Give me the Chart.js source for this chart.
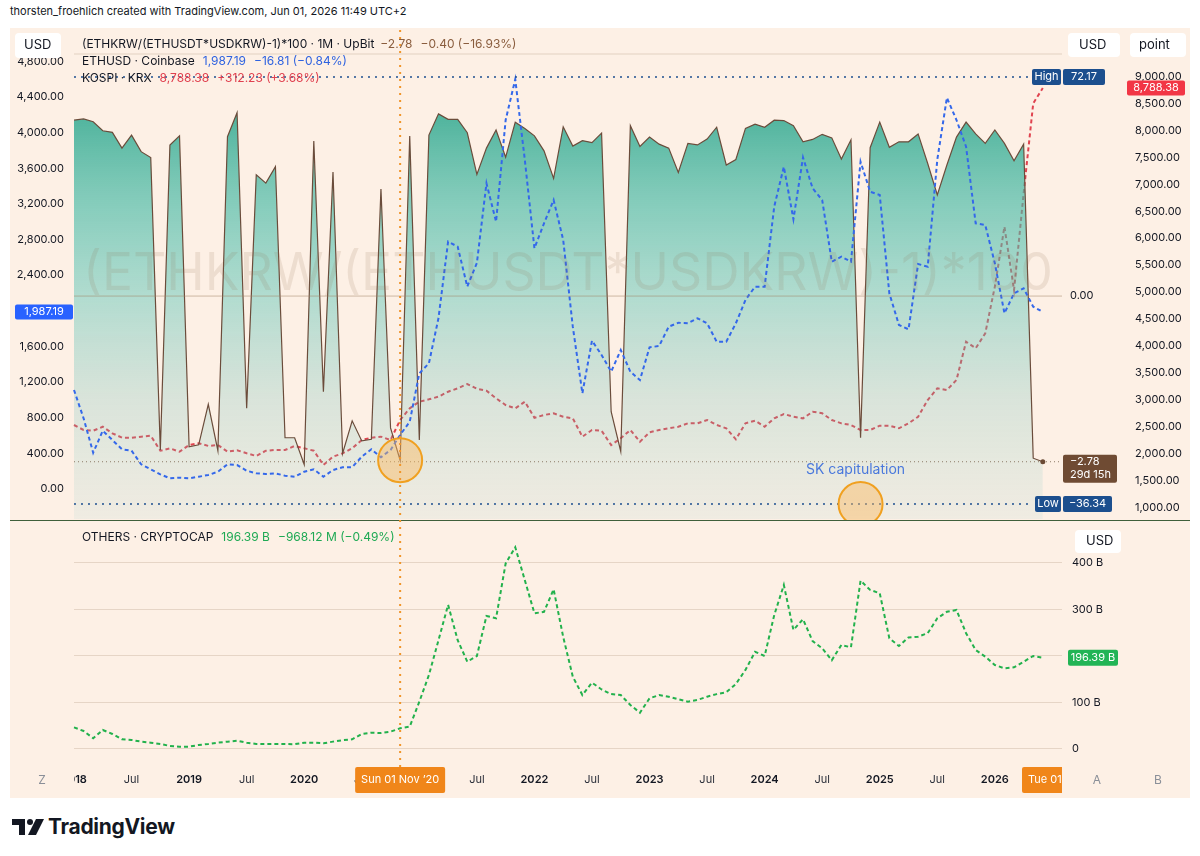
<!DOCTYPE html>
<html>
<head>
<meta charset="utf-8">
<script src="https://cdn.jsdelivr.net/npm/chart.js@4.4.1/dist/chart.umd.min.js"></script>
<style>
  body { margin: 0; background: #fff; width: 1200px; height: 856px; position: relative; overflow: hidden; font-family: Inter, "Noto Sans", sans-serif; }
  #hdr { position: absolute; left: 10px; top: 4px; font-size: 11px; color: #131722; }
  #panel { position: absolute; left: 10px; top: 28px; width: 1180px; height: 770px; background: #fdf0e5; }
  #sep { position: absolute; left: 10px; top: 520px; width: 1180px; height: 1px; background: #3f5f3a; }
  #c1 { position: absolute; left: 0; top: 0; }
  #c2 { position: absolute; left: 0; top: 520px; }
  #logo { position: absolute; left: 12px; top: 814px; display: flex; align-items: center; gap: 4px; font-weight: 700; font-size: 21px; color: #131722; letter-spacing: -0.3px; }
</style>
</head>
<body>
<div id="hdr">thorsten_froehlich created with TradingView.com, Jun 01, 2026 11:49 UTC+2</div>
<div id="panel"></div>
<canvas id="c1" width="1200" height="520"></canvas>
<div id="sep"></div>
<canvas id="c2" width="1200" height="280"></canvas>
<div id="logo">
  <svg width="32" height="20" viewBox="0 0 32 20"><path d="M0 2h13v16H7V8H0z" fill="#131722"/><circle cx="18" cy="5" r="3" fill="#131722"/><path d="M24 2h8l-8 16h-8z" fill="#131722"/></svg>
  <span>TradingView</span>
</div>
<script>
// monthly bars, Jan 2018 .. Jun 2026 (axis runs two months further)
const months = [];
for (let i = 0; i < 104; i++) {
    const y = 2018 + Math.floor(i / 12), m = i % 12 + 1;
    months.push(y + '-' + String(m).padStart(2, '0'));
}

// (ETHKRW/(ETHUSDT*USDKRW)-1)*100 , UpBit
const spread = [
    61.2, 61.5, 60.8, 58.5, 58.1, 54.1, 57.4, 53.2, 51.7, -22.6, 54.9, 57.2,
    -21.8, -21.3, -11.0, -22.8, 57.0, 63.1, -12.0, 47.3, 45.2, 49.4, -19.5, -19.5,
    -26.3, 55.9, -7.8, 48.0, -23.5, -15.2, -20.3, -19.9, 43.7, -17.0, -25.2, 57.2,
    -20.1, 57.4, 62.8, 61.4, 61.4, 58.0, 47.4, 54.1, 58.7, 51.8, 60.7, 59.1,
    57.2, 53.4, 46.4, 59.5, 54.6, 56.0, 55.5, 57.9, -12.9, -23.0, 59.8, 54.5,
    56.9, 55.1, 54.1, 47.9, 55.3, 54.9, 56.4, 59.4, 49.8, 51.2, 59.1, 60.2,
    59.4, 61.2, 61.1, 59.8, 55.7, 56.3, 57.6, 56.7, 51.3, 56.2, -19.5, 54.2,
    60.7, 54.3, 55.7, 55.7, 57.7, 50.2, 42.2, 49.8, 56.9, 60.7, 57.7, 55.3,
    58.7, 55.3, 50.9, 55.1, -24.7, -25.6
];

// ETHUSD, Coinbase
const ethusd = [
    1111, 793, 407, 654, 550, 446, 430, 277, 221, 165, 120, 127,
    120, 138, 157, 194, 277, 269, 205, 176, 168, 176, 149, 138,
    194, 221, 138, 213, 244, 244, 363, 446, 356, 438, 607, 755,
    1298, 1411, 1919, 2776, 2720, 2271, 2536, 3431, 3000, 4141, 4598, 3692,
    2701, 2982, 3243, 2795, 1822, 1074, 1665, 1504, 1317, 1560, 1317, 1223,
    1590, 1605, 1822, 1866, 1860, 1916, 1860, 1653, 1653, 1860, 2121, 2271,
    2271, 3169, 3617, 3027, 3721, 3375, 3243, 2551, 2607, 2551, 3673, 3337,
    3300, 2196, 1841, 1792, 2525, 2495, 3697, 4392, 4141, 3842, 2982, 2963,
    2533, 1972, 2196, 2252, 2046, 1987.19
];

// KOSPI, KRX
const kospi = [
    2529, 2436, 2423, 2497, 2375, 2293, 2293, 2312, 2330, 2051, 2096, 2033,
    2157, 2189, 2140, 2157, 2033, 2060, 2003, 1953, 2051, 2065, 2065, 2139,
    2096, 2051, 1786, 1940, 2003, 2096, 2250, 2293, 2312, 2250, 2622, 2839,
    2962, 3006, 3055, 3148, 3210, 3290, 3202, 3166, 3025, 2900, 2839, 2962,
    2664, 2715, 2746, 2683, 2653, 2312, 2436, 2423, 2157, 2282, 2436, 2219,
    2393, 2436, 2468, 2497, 2560, 2560, 2622, 2529, 2468, 2263, 2560, 2609,
    2497, 2653, 2733, 2683, 2653, 2776, 2746, 2622, 2560, 2529, 2436, 2436,
    2516, 2516, 2468, 2560, 2683, 2993, 3210, 3179, 3365, 4077, 3954, 4232,
    5100, 6213, 5037, 6833, 8505, 8788.38
];

// OTHERS, CRYPTOCAP (billion USD)
const others = [
    46.6, 38.7, 23, 40.9, 32.3, 20.8, 19.4, 15.8, 13.6, 10.8, 6.5, 5,
    5, 8.6, 10.8, 13.6, 15.8, 17.8, 13.6, 10.8, 10.8, 10.8, 10.8, 10.3,
    13.6, 13.6, 12.2, 15.8, 18.9, 20.8, 32.3, 35, 34.4, 37.2, 44.5, 48,
    101.7, 159, 234, 310, 234, 187.7, 200, 286, 281, 399, 433.8, 363,
    291.8, 295, 343.4, 241, 155.5, 116, 142.6, 128, 118, 116, 94.6, 78,
    109, 116, 112.5, 106.8, 101.7, 105.4, 112.5, 118, 122, 139.8, 170, 209,
    200, 288, 352.7, 256, 279, 232, 216.5, 191, 223.7, 218.7, 362, 342,
    335, 238, 221.5, 240, 241.5, 249, 281, 295, 299, 249, 213, 198.5,
    180.6, 173.5, 175.7, 187.7, 200, 196.39
];

// axis ticks
const ethTicks = [0, 400, 800, 1200, 1600, 2000, 2400, 2800, 3200, 3600, 4000, 4400, 4800];
const kospiTicks = [1000, 1500, 2000, 2500, 3000, 3500, 4000, 4500, 5000, 5500, 6000, 6500, 7000, 7500, 8000, 8500, 9000];
const othersTicks = [0, 100, 200, 300, 400];

const spreadHigh = 72.17, spreadLow = -36.34, spreadRef = 16.5;
const crossIdx = 34;      // Nov 2020
const skIdx = 82;         // Nov 2024
const watermark = '(ETHKRW/(ETHUSDT*USDKRW)-1)*100';
const F = 'Inter, "Noto Sans", sans-serif';

function fmt(v) {
    return v.toLocaleString('en-US', { minimumFractionDigits: 2, maximumFractionDigits: 2 });
}

function rbox(ctx, x, y, w, h, r, fill) {
    ctx.beginPath();
    ctx.roundRect(x, y, w, h, r);
    ctx.fillStyle = fill;
    ctx.fill();
}

function txt(ctx, s, x, y, color, font, align) {
    ctx.font = font;
    ctx.fillStyle = color;
    ctx.textAlign = align || 'left';
    ctx.textBaseline = 'middle';
    ctx.fillText(s, x, y);
}

function hline(ctx, x1, x2, y, color, width, dash, cap) {
    ctx.save();
    ctx.beginPath();
    ctx.strokeStyle = color;
    ctx.lineWidth = width;
    ctx.setLineDash(dash);
    ctx.lineCap = cap || 'butt';
    ctx.moveTo(x1, y);
    ctx.lineTo(x2, y);
    ctx.stroke();
    ctx.restore();
}

function legendLine(ctx, x, y, parts) {
    ctx.font = '12px ' + F;
    parts.forEach(([s, c, gap]) => {
        txt(ctx, s, x, y, c, '12px ' + F);
        x += ctx.measureText(s).width + (gap || 7);
    });
}

function circleMark(ctx, x, y, r) {
    ctx.beginPath();
    ctx.arc(x, y, r, 0, Math.PI * 2);
    ctx.fillStyle = 'rgba(250,185,95,0.45)';
    ctx.fill();
    ctx.lineWidth = 2;
    ctx.strokeStyle = '#f0a020';
    ctx.stroke();
}

function crosshair(ctx, x, y1, y2) {
    ctx.save();
    ctx.beginPath();
    ctx.strokeStyle = '#f0952a';
    ctx.lineWidth = 2;
    ctx.setLineDash([2, 5]);
    ctx.moveTo(x, y1);
    ctx.lineTo(x, y2);
    ctx.stroke();
    ctx.restore();
}

// fixed axis width, no extra room for the end labels
function fixAxis(w) {
    return s => { s.width = w; s.paddingTop = 0; s.paddingBottom = 0; };
}

const topDecor = {
    id: 'topDecor',
    afterDatasetsDraw(chart) {
        const { ctx, chartArea: a, scales } = chart;
        const xs = scales.x, yS = scales.yS;
        ctx.save();

        // watermark
        ctx.font = '60px ' + F;
        const fs = 60 * (a.right - a.left - 18) / ctx.measureText(watermark).width;
        txt(ctx, watermark, (a.left + a.right) / 2, (a.top + a.bottom) / 2, 'rgba(140,105,75,0.14)', fs + 'px ' + F, 'center');

        // faint top rule and zero line
        hline(ctx, a.left, a.right, a.top + 24, '#e2d1c1', 1, []);
        const yRef = yS.getPixelForValue(spreadRef);
        hline(ctx, a.left, a.right, yRef, 'rgba(160,130,100,0.5)', 1, []);
        txt(ctx, '0.00', a.right + 8, yRef, '#131722', '11px ' + F);

        // last value line
        const last = spread.length - 1;
        const yLast = yS.getPixelForValue(spread[last]);
        hline(ctx, a.left, a.right, yLast, '#8d7a66', 1, [1, 3]);

        // high / low lines
        const yHi = yS.getPixelForValue(spreadHigh), yLo = yS.getPixelForValue(spreadLow);
        hline(ctx, a.left + 1, a.right - 31, yHi, '#1d4f8f', 2, [0, 7], 'round');
        hline(ctx, a.left + 1, a.right - 28, yLo, '#1d4f8f', 2, [0, 7], 'round');

        // circles and note
        circleMark(ctx, xs.getPixelForValue(crossIdx), yS.getPixelForValue(spread[crossIdx]), 22);
        const xSk = xs.getPixelForValue(skIdx);
        circleMark(ctx, xSk, yLo, 22);
        txt(ctx, 'SK capitulation', xSk - 5, yLo - 34, '#4a78dc', '14px ' + F, 'center');

        // last point dot
        ctx.beginPath();
        ctx.arc(xs.getPixelForValue(last), yLast, 2.5, 0, Math.PI * 2);
        ctx.fillStyle = '#6b4a35';
        ctx.fill();

        crosshair(ctx, xs.getPixelForValue(crossIdx), 30, 520);
        ctx.restore();
    },
    afterDraw(chart) {
        const { ctx, chartArea: a, scales } = chart;
        const yS = scales.yS, yE = scales.yE, yK = scales.yK;
        ctx.save();

        // legend
        legendLine(ctx, 82, 44, [[watermark + ' · 1M · UpBit', '#131722', 6], ['−2.78', '#8a5d3e', 8], ['−0.40 (−16.93%)', '#8a5d3e']]);
        legendLine(ctx, 82, 61, [['ETHUSD · Coinbase', '#131722', 8], ['1,987.19', '#2f63e0', 8], ['−16.81 (−0.84%)', '#2f63e0']]);
        legendLine(ctx, 82, 78, [['KOSPI · KRX', '#131722', 8], ['8,788.38', '#e0404f', 8], ['+312.23 (+3.68%)', '#e0404f']]);

        // scale header buttons
        rbox(ctx, 15, 33, 46, 25, 4, '#ffffff');
        txt(ctx, 'USD', 24, 45, '#131722', '13px ' + F);
        rbox(ctx, 1068, 33, 52, 24, 4, '#ffffff');
        txt(ctx, 'USD', 1079, 45, '#131722', '13px ' + F);
        rbox(ctx, 1130, 33, 56, 24, 4, '#ffffff');
        txt(ctx, 'point', 1139, 45, '#131722', '13px ' + F);

        // high / low tags
        const yHi = yS.getPixelForValue(spreadHigh), yLo = yS.getPixelForValue(spreadLow);
        rbox(ctx, a.right - 30, yHi - 8, 29, 16, 2, '#1c4f8e');
        txt(ctx, 'High', a.right - 15.5, yHi, '#fff', '11px ' + F, 'center');
        rbox(ctx, a.right + 1, yHi - 8, 42, 16, 2, '#1c4f8e');
        txt(ctx, fmt(spreadHigh), a.right + 22, yHi, '#fff', '11px ' + F, 'center');
        rbox(ctx, a.right - 27, yLo - 8, 26, 16, 2, '#1c4f8e');
        txt(ctx, 'Low', a.right - 14, yLo, '#fff', '11px ' + F, 'center');
        rbox(ctx, a.right + 1, yLo - 8, 49, 16, 2, '#1c4f8e');
        txt(ctx, '−' + fmt(-spreadLow), a.right + 25.5, yLo, '#fff', '11px ' + F, 'center');

        // last value tag
        const yLast = yS.getPixelForValue(spread[spread.length - 1]);
        rbox(ctx, a.right + 1, yLast - 7, 54, 28, 2, '#6f4b33');
        txt(ctx, '−2.78', a.right + 8, yLast, '#fff', '11px ' + F);
        txt(ctx, '29d 15h', a.right + 8, yLast + 13, '#fff', '11px ' + F);

        // ETH and KOSPI last value tags
        const eth = ethusd[ethusd.length - 1], ks = kospi[kospi.length - 1];
        const yEth = yE.getPixelForValue(eth);
        rbox(ctx, 15, yEth - 7.5, 58, 15, 2, '#2962ff');
        txt(ctx, fmt(eth), 44, yEth, '#fff', '11px ' + F, 'center');
        const yKs = yK.getPixelForValue(ks);
        rbox(ctx, 1127, yKs - 7.5, 58, 15, 2, '#f23645');
        txt(ctx, fmt(ks), 1156, yKs, '#fff', '11px ' + F, 'center');
        ctx.restore();
    }
};

const bottomDecor = {
    id: 'bottomDecor',
    afterDatasetsDraw(chart) {
        const { ctx, scales } = chart;
        crosshair(ctx, scales.x.getPixelForValue(crossIdx), 0, 248);
    },
    afterDraw(chart) {
        const { ctx, chartArea: a, scales } = chart;
        const xs = scales.x, yO = scales.yO;
        ctx.save();

        legendLine(ctx, 82, 17, [['OTHERS · CRYPTOCAP', '#131722', 8], ['196.39 B', '#1fa954', 8], ['−968.12 M (−0.49%)', '#1fa954']]);

        rbox(ctx, 1075, 10, 46, 23, 4, '#ffffff');
        txt(ctx, 'USD', 1086, 21.5, '#131722', '13px ' + F);

        const yLast = yO.getPixelForValue(others[others.length - 1]);
        rbox(ctx, 1068, yLast - 8, 50, 16, 2, '#22b455');
        txt(ctx, '196.39 B', 1093, yLast, '#fff', '11px ' + F, 'center');

        // time axis labels
        const ty = 260;
        ctx.save();
        ctx.beginPath();
        ctx.rect(a.left, a.bottom, a.right - a.left, 34);
        ctx.clip();
        months.forEach((lab, i) => {
            const m = +lab.slice(5);
            if (m !== 1 && m !== 7) return;
            const x = xs.getPixelForValue(i);
            if (m === 1) txt(ctx, lab.slice(0, 4), x, ty, '#131722', '600 11px ' + F, 'center');
            else txt(ctx, 'Jul', x, ty, '#2a2e39', '11px ' + F, 'center');
        });
        ctx.restore();

        // crosshair time tag
        const xc = xs.getPixelForValue(crossIdx);
        rbox(ctx, xc - 45, 247, 90, 26, 2, '#f0861a');
        txt(ctx, 'Sun 01 Nov \u201920', xc, ty, '#fff', '11px ' + F, 'center');

        // last bar time tag, clipped at the plot edge
        ctx.save();
        ctx.beginPath();
        ctx.rect(a.left, a.bottom, a.right - a.left, 34);
        ctx.clip();
        rbox(ctx, a.right - 40, 247, 80, 26, 2, '#f0861a');
        txt(ctx, 'Tue 01 Jun \u201926', a.right - 34, ty, '#fff', '11px ' + F);
        ctx.restore();

        txt(ctx, 'Z', 42, ty, '#8a8f98', '12px ' + F, 'center');
        txt(ctx, 'A', 1097, ty, '#8a8f98', '12px ' + F, 'center');
        txt(ctx, 'B', 1158, ty, '#8a8f98', '12px ' + F, 'center');
        ctx.restore();
    }
};

// teal area: strong near the top, thin near the base so the red line stays visible low down
function spreadFill(c) {
    const a = c.chart.chartArea;
    if (!a) return 'rgba(0,0,0,0)';
    const g = c.chart.ctx.createLinearGradient(0, a.top, 0, a.bottom);
    g.addColorStop(0, 'rgba(46,167,142,0.86)');
    g.addColorStop(0.16, 'rgba(46,167,142,0.86)');
    g.addColorStop(0.35, 'rgba(70,185,165,0.66)');
    g.addColorStop(0.55, 'rgba(87,196,182,0.45)');
    g.addColorStop(0.75, 'rgba(103,190,184,0.24)');
    g.addColorStop(0.86, 'rgba(128,200,194,0.2)');
    g.addColorStop(1, 'rgba(167,213,209,0.15)');
    return g;
}

const noGrid = { display: false, drawTicks: false };
const tickFont = { size: 11, family: F };

new Chart(document.getElementById('c1'), {
    type: 'line',
    data: {
        labels: months,
        datasets: [
            { label: 'spread', data: spread, yAxisID: 'yS', borderColor: '#6b4c3b', borderWidth: 1.2, fill: 'start', backgroundColor: spreadFill, pointRadius: 0, tension: 0, order: 2 },
            { label: 'ETHUSD', data: ethusd, yAxisID: 'yE', borderColor: '#3468ea', borderWidth: 2, borderDash: [4, 3], pointRadius: 0, tension: 0, fill: false, order: 1 },
            { label: 'KOSPI', data: kospi, yAxisID: 'yK', borderColor: '#e0434f', borderWidth: 2, borderDash: [4, 3], pointRadius: 0, tension: 0, fill: false, order: 3 }
        ]
    },
    options: {
        responsive: false,
        animation: false,
        layout: { autoPadding: false, padding: { left: 10, right: 10, top: 30, bottom: 1 } },
        plugins: { legend: { display: false }, tooltip: { enabled: false } },
        scales: {
            x: { type: 'category', display: false },
            yE: {
                position: 'left', min: -336.7, max: 5151.5,
                afterFit: fixAxis(64),
                afterBuildTicks: s => { s.ticks = ethTicks.map(v => ({ value: v })); },
                grid: noGrid, border: { display: false },
                ticks: {
                    padding: 10, color: '#131722', font: tickFont, autoSkip: false,
                    callback: v => Math.abs(v - ethusd[ethusd.length - 1]) < 80 ? '' : fmt(v)
                }
            },
            yS: {
                position: 'right', weight: 0, min: -40.15, max: 84.11,
                afterFit: fixAxis(58),
                grid: noGrid, border: { display: false }, ticks: { display: false }
            },
            yK: {
                position: 'right', weight: 1, min: 782.6, max: 9867.6,
                afterFit: fixAxis(70),
                afterBuildTicks: s => { s.ticks = kospiTicks.map(v => ({ value: v })); },
                grid: noGrid, border: { display: false },
                ticks: { padding: 15, color: '#131722', font: tickFont, autoSkip: false, callback: v => fmt(v) }
            }
        }
    },
    plugins: [topDecor]
});

new Chart(document.getElementById('c2'), {
    type: 'line',
    data: {
        labels: months,
        datasets: [
            { label: 'OTHERS', data: others, yAxisID: 'yO', borderColor: '#22b14c', borderWidth: 2, borderDash: [4, 3], pointRadius: 0, tension: 0, fill: false }
        ]
    },
    options: {
        responsive: false,
        animation: false,
        layout: { autoPadding: false, padding: { left: 74, right: 10, top: 1, bottom: 34 } },
        plugins: { legend: { display: false }, tooltip: { enabled: false } },
        scales: {
            x: { type: 'category', display: false },
            yO: {
                position: 'right', min: -36.6, max: 490.3,
                afterFit: fixAxis(128),
                afterBuildTicks: s => { s.ticks = othersTicks.map(v => ({ value: v })); },
                grid: { color: '#e6d5c6', drawTicks: false }, border: { display: false },
                ticks: {
                    padding: 10, color: '#131722', font: tickFont, autoSkip: false,
                    callback: v => v === 200 ? '' : (v === 0 ? '0' : v + ' B')
                }
            }
        }
    },
    plugins: [bottomDecor]
});
</script>
</body>
</html>
